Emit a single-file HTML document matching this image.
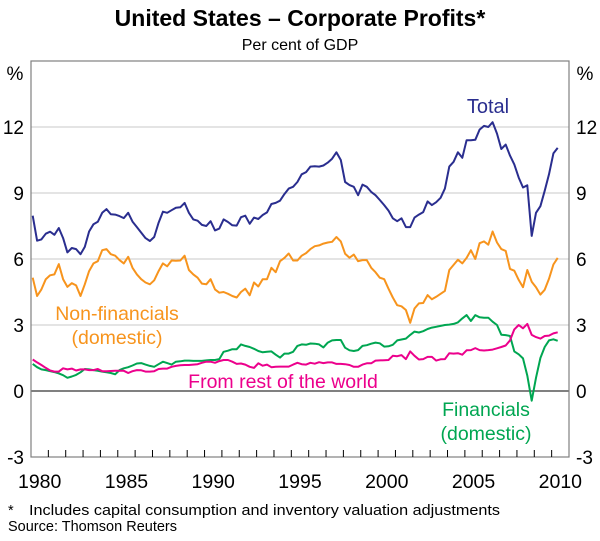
<!DOCTYPE html>
<html><head><meta charset="utf-8"><style>
body{margin:0;background:#fff;}
svg{display:block;font-family:"Liberation Sans",Arial,sans-serif;}
</style></head><body>
<svg id="chart" width="600" height="541" viewBox="0 0 600 541" xmlns="http://www.w3.org/2000/svg">
<text x="300" y="26" text-anchor="middle" font-size="23" font-weight="bold">United States – Corporate Profits*</text>
<text x="300" y="50" text-anchor="middle" font-size="16">Per cent of GDP</text>
<text x="15" y="80" text-anchor="middle" font-size="19">%</text>
<text x="585" y="80" text-anchor="middle" font-size="19">%</text>
<g id="grid"></g><g id="series"></g><g id="axes"></g>
<text x="488" y="113" text-anchor="middle" font-size="20" fill="#2a2e8f">Total</text>
<text x="117" y="320" text-anchor="middle" font-size="19.5" fill="#f7941d">Non-financials</text>
<text x="117" y="344" text-anchor="middle" font-size="19.5" fill="#f7941d">(domestic)</text>
<text x="283" y="388" text-anchor="middle" font-size="19.5" fill="#ec008c">From rest of the world</text>
<text x="486" y="416" text-anchor="middle" font-size="19.5" fill="#00a651">Financials</text>
<text x="486" y="440" text-anchor="middle" font-size="19.5" fill="#00a651">(domestic)</text>
<text x="8" y="515" font-size="14.5">*</text>
<text x="29" y="515" font-size="14.5" textLength="471" lengthAdjust="spacingAndGlyphs">Includes capital consumption and inventory valuation adjustments</text>
<text x="8" y="531" font-size="14.5" textLength="169" lengthAdjust="spacingAndGlyphs">Source: Thomson Reuters</text>
</svg>
<script>
const startYear = 1980;
const yTicks = [-3, 0, 3, 6, 9, 12];
const xTickLabels = [1980, 1985, 1990, 1995, 2000, 2005, 2010];
const totalValues = [7.97,6.83,6.89,7.15,7.24,7.1,7.41,6.95,6.3,6.5,6.45,6.22,6.55,7.25,7.58,7.69,8.1,8.27,8.03,8.02,7.95,7.86,8.1,7.7,7.45,7.2,6.95,6.82,7.0,7.65,8.15,8.1,8.22,8.33,8.35,8.55,8.1,7.8,7.74,7.55,7.5,7.72,7.3,7.38,7.8,7.68,7.53,7.52,7.9,7.97,7.6,7.88,7.82,8.0,8.12,8.5,8.55,8.65,8.95,9.2,9.28,9.5,9.85,9.95,10.2,10.22,10.2,10.25,10.38,10.56,10.85,10.5,9.5,9.36,9.28,8.9,9.38,9.28,9.05,8.9,8.68,8.45,8.2,7.85,7.72,7.85,7.45,7.45,7.88,8.02,8.13,8.62,8.45,8.58,8.78,9.2,10.2,10.42,10.85,10.6,11.4,11.4,11.42,11.88,12.05,12.0,12.22,11.7,11.0,11.2,10.7,10.3,9.7,9.25,9.35,7.05,8.1,8.4,9.1,9.85,10.8,11.05];
const nonFinValues = [5.15,4.32,4.62,5.08,5.26,5.3,5.77,5.08,4.73,4.9,4.8,4.32,4.85,5.45,5.8,5.9,6.4,6.45,6.22,6.15,5.95,5.8,6.1,5.6,5.3,5.08,4.93,4.85,5.03,5.45,5.8,5.67,5.93,5.92,5.93,6.15,5.5,5.3,5.15,4.88,4.85,5.08,4.62,4.47,4.5,4.42,4.32,4.25,4.5,4.65,4.35,4.93,4.75,5.08,5.08,5.6,5.4,5.9,6.05,6.25,5.93,5.93,6.15,6.27,6.45,6.58,6.62,6.7,6.75,6.78,7.0,6.8,6.24,6.06,6.2,5.9,5.95,5.95,5.6,5.4,5.15,5.08,4.65,4.25,3.9,3.85,3.68,3.1,3.75,3.98,4.0,4.36,4.17,4.28,4.42,4.55,5.5,5.73,5.97,5.8,6.05,6.4,6.0,6.72,6.8,6.65,7.25,6.75,6.45,6.37,5.55,5.47,5.05,4.72,5.5,4.97,4.72,4.38,4.6,5.1,5.75,6.05];
const finValues = [1.23,1.08,0.98,0.95,0.9,0.86,0.8,0.72,0.6,0.66,0.73,0.85,1.0,0.98,0.95,0.92,0.88,0.85,0.82,0.76,0.95,1.03,1.08,1.16,1.25,1.27,1.2,1.14,1.1,1.22,1.33,1.27,1.2,1.33,1.35,1.38,1.38,1.37,1.37,1.37,1.39,1.41,1.41,1.45,1.78,1.83,1.9,1.9,2.12,2.05,2.0,1.92,1.82,1.76,1.78,1.8,1.65,1.52,1.7,1.7,1.78,2.05,2.12,2.1,2.16,2.15,2.12,1.98,2.2,2.3,2.32,2.32,1.97,1.85,1.82,1.86,2.05,2.08,2.15,2.2,2.17,2.02,2.03,2.1,2.3,2.34,2.38,2.55,2.7,2.66,2.72,2.82,2.88,2.92,2.96,3.0,3.02,3.05,3.12,3.3,3.45,3.18,3.45,3.35,3.33,3.33,3.15,3.0,2.56,2.54,2.5,1.8,1.67,1.48,0.7,-0.44,0.6,1.5,2.0,2.3,2.35,2.28];
const rowValues = [1.43,1.3,1.18,1.05,0.93,0.88,0.88,1.03,0.98,1.02,0.93,0.98,0.98,0.95,0.95,1.0,0.9,0.9,0.91,0.92,0.92,0.92,0.82,0.9,0.95,0.94,0.88,0.88,0.9,1.0,1.02,1.02,1.1,1.14,1.17,1.18,1.18,1.2,1.22,1.28,1.33,1.33,1.28,1.36,1.41,1.41,1.33,1.23,1.25,1.2,1.1,1.05,1.26,1.15,1.2,1.08,1.1,1.11,1.11,1.11,1.2,1.28,1.22,1.2,1.28,1.24,1.31,1.27,1.3,1.3,1.23,1.23,1.22,1.18,1.1,1.1,1.2,1.26,1.26,1.38,1.39,1.4,1.41,1.6,1.58,1.63,1.45,1.8,1.6,1.43,1.45,1.55,1.55,1.38,1.44,1.45,1.72,1.7,1.72,1.65,1.85,1.86,1.95,1.86,1.84,1.86,1.88,1.94,2.0,2.07,2.3,2.8,3.0,2.85,3.05,2.55,2.45,2.38,2.5,2.52,2.62,2.67];

const NS = "http://www.w3.org/2000/svg";
const L = 31, R = 569, T = 61, B = 457;
const yearW = (R - L) / 31;
function xYear(y){ return L + (y - startYear) * yearW; }
function xIdx(i){ return xYear(startYear + i / 4 + 0.1); }
function yVal(v){ return 391 - v * 22; }
function mk(tag, attrs, parent){ const e = document.createElementNS(NS, tag); for (const k in attrs) e.setAttribute(k, attrs[k]); parent.appendChild(e); return e; }
const grid = document.getElementById('grid'), axes = document.getElementById('axes'), ser = document.getElementById('series');
yTicks.forEach(v => {
  const g = mk('line', {x1:L, x2:R, y1:yVal(v), y2:yVal(v), stroke: v === 0 ? '#000' : '#c8c8c8', 'stroke-width': 1}, grid);
  
  
  const tl = mk('text', {x:24, y:yVal(v)+7, 'text-anchor':'end', 'font-size':19}, axes);
  tl.textContent = v;
  
  
  const tr = mk('text', {x:576, y:yVal(v)+7, 'text-anchor':'start', 'font-size':19}, axes);
  tr.textContent = v;
  
  
});
const frame = mk('rect', {x:L, y:T, width:R-L, height:B-T, fill:'none', stroke:'#808080', 'stroke-width':1.2}, axes);


for (let k = 1; k < 31; k++) {
  const t = mk('line', {x1:xYear(startYear+k), x2:xYear(startYear+k), y1:B, y2:B-7, stroke:'#000', 'stroke-width':1}, axes);
  
  
}
xTickLabels.forEach(y => {
  const t = mk('text', {x:xYear(y)+yearW/2, y:488, 'text-anchor':'middle', 'font-size':19.5}, axes);
  t.textContent = y;
  
  
});
function line(vals, color, name){
  const d = vals.map((v,i) => (i ? 'L' : 'M') + xIdx(i).toFixed(1) + ',' + yVal(v).toFixed(1)).join('');
  const p = mk('path', {d:d, fill:'none', stroke:color, 'stroke-width':2, 'stroke-linejoin':'round'}, ser);
  
  
}
line(finValues, '#00a651', 'financials-line');
line(rowValues, '#ec008c', 'rest-of-world-line');
line(nonFinValues, '#f7941d', 'non-financials-line');
line(totalValues, '#2a2e8f', 'total-line');
</script>
</body></html>
